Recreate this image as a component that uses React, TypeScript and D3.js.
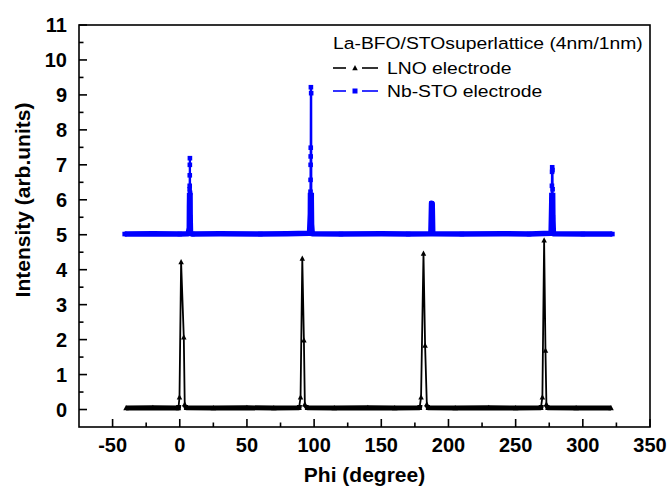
import React from "react";
import * as d3 from "d3";

// ---- data ----
const lnoSeries: [number, number][] = [
  [-40, 0.04], [-20, 0.05], [-1, 0.04], [-0.2, 0.35], [1.0, 4.22], [3.0, 2.07], [3.7, 0.15], [5, 0.05],
  [25, 0.04], [50, 0.05], [70, 0.04], [88.8, 0.05], [89.9, 0.35], [91.2, 4.32], [92.4, 1.98], [93.1, 0.15], [95, 0.05],
  [115, 0.04], [140, 0.05], [160, 0.04], [178.5, 0.05], [179.6, 0.35], [181.4, 4.46], [182.6, 1.83], [183.9, 0.15], [185, 0.05],
  [205, 0.04], [230, 0.05], [250, 0.04], [268.8, 0.05], [269.9, 0.35], [271.2, 4.84], [272.2, 1.69], [272.9, 0.15], [274, 0.05],
  [295, 0.04], [321, 0.04],
];

const nbstoSeries: [number, number][] = [
  [-41, 5.02], [-20, 5.03], [0, 5.02], [6.3, 5.03], [7.1, 5.2], [7.2, 5.8], [7.3, 6.07], [7.35, 6.3], [7.4, 6.4],
  [7.45, 6.7], [7.5, 7.0], [7.55, 7.19], [7.65, 6.2], [7.75, 5.5], [8.0, 5.05], [9.5, 5.02],
  [30, 5.03], [60, 5.02], [80, 5.03], [96.6, 5.04], [97.2, 5.6], [97.3, 6.23], [97.35, 6.57], [97.4, 7.0],
  [97.45, 7.24], [97.5, 7.49], [97.6, 9.22], [97.8, 9.05], [97.9, 6.0], [98.1, 5.3], [98.6, 5.03],
  [120, 5.02], [150, 5.03], [170, 5.02], [186.9, 5.03], [187.4, 5.9], [187.9, 5.88], [188.3, 5.03],
  [210, 5.02], [240, 5.03], [260, 5.02], [276.4, 5.04], [276.9, 6.0], [277.0, 6.4], [277.1, 6.8], [277.2, 6.93],
  [277.4, 6.85], [277.5, 6.3], [277.7, 5.5], [278.1, 5.03], [300, 5.02], [322, 5.02],
];

const xMajorTicks = [-50, 0, 50, 100, 150, 200, 250, 300, 350];
const xMinorTicks = [-25, 25, 75, 125, 175, 225, 275, 325];
const yMajorTicks = [0, 1, 2, 3, 4, 5, 6, 7, 8, 9, 10, 11];
const yMinorTicks = [0.5, 1.5, 2.5, 3.5, 4.5, 5.5, 6.5, 7.5, 8.5, 9.5, 10.5];

const legendTitle = "La-BFO/STOsuperlattice (4nm/1nm)";
const legendLabels = ["LNO electrode", "Nb-STO electrode"];
const xTitle = "Phi (degree)";
const yTitle = "Intensity (arb.units)";

const W = 670;
const H = 488;
const M = { left: 79, right: 650, top: 25, bottom: 427 };

export default function App() {
  const x = d3.scaleLinear().domain([-75, 350]).range([M.left, M.right]);
  const y = d3.scaleLinear().domain([-0.5, 11]).range([M.bottom, M.top]);
  const line = d3
    .line<[number, number]>()
    .x((d) => x(d[0]))
    .y((d) => y(d[1]));

  const font = "'Liberation Sans', Arial, Helvetica, sans-serif";
  const tri = (cx: number, cy: number, s: number) =>
    `M${cx},${cy - s * 0.6}L${cx + s * 0.55},${cy + s * 0.45}L${cx - s * 0.55},${cy + s * 0.45}Z`;

  const blue = "#0000ff";

  return (
    <svg
      width={W}
      height={H}
      style={{ position: "absolute", left: 0, top: 0, background: "#fff" }}
      fontFamily={font}
    >
      <defs>
        <clipPath id="plot">
          <rect x={M.left} y={M.top} width={M.right - M.left} height={M.bottom - M.top} />
        </clipPath>
        <clipPath id="lnoBase">
          <rect x={M.left} y={y(0.13)} width={M.right - M.left} height={y(-0.2) - y(0.13)} />
        </clipPath>
        <clipPath id="nbBase">
          <rect x={M.left} y={y(6.2)} width={M.right - M.left} height={y(4.8) - y(6.2)} />
        </clipPath>
      </defs>

      {/* data */}
      <g clipPath="url(#plot)">
        <g clipPath="url(#nbBase)">
          <path d={line(nbstoSeries) || ""} fill="none" stroke={blue} strokeWidth={5.5} strokeLinejoin="round" />
        </g>
        <path d={line(nbstoSeries) || ""} fill="none" stroke={blue} strokeWidth={2.2} />
        {nbstoSeries.map((d, i) => (
          <rect key={"b" + i} x={x(d[0]) - 2.3} y={y(d[1]) - 2.3} width={4.6} height={4.6} fill={blue} />
        ))}

        <g clipPath="url(#lnoBase)">
          <path d={line(lnoSeries) || ""} fill="none" stroke="#000" strokeWidth={5} strokeLinejoin="round" />
        </g>
        <path d={line(lnoSeries) || ""} fill="none" stroke="#000" strokeWidth={1.8} />
        {lnoSeries.map((d, i) => (
          <path key={"k" + i} d={tri(x(d[0]), y(d[1]), 5)} fill="#000" />
        ))}
      </g>

      {/* frame */}
      <rect
        x={M.left}
        y={M.top}
        width={M.right - M.left}
        height={M.bottom - M.top}
        fill="none"
        stroke="#000"
        strokeWidth={1.6}
      />

      {/* x ticks */}
      {xMajorTicks.map((t) => (
        <g key={"xt" + t}>
          <line x1={x(t)} x2={x(t)} y1={M.bottom} y2={M.bottom - 8} stroke="#000" strokeWidth={1.6} />
          <text x={x(t)} y={452} textAnchor="middle" fontSize={20} fontWeight="bold">
            {t}
          </text>
        </g>
      ))}
      {xMinorTicks.map((t) => (
        <line key={"xm" + t} x1={x(t)} x2={x(t)} y1={M.bottom} y2={M.bottom - 4.5} stroke="#000" strokeWidth={1.6} />
      ))}

      {/* y ticks */}
      {yMajorTicks.map((t) => (
        <g key={"yt" + t}>
          <line x1={M.left} x2={M.left + 8} y1={y(t)} y2={y(t)} stroke="#000" strokeWidth={1.6} />
          <text x={67} y={y(t)} dy="0.36em" textAnchor="end" fontSize={20} fontWeight="bold">
            {t}
          </text>
        </g>
      ))}
      {yMinorTicks.map((t) => (
        <line key={"ym" + t} x1={M.left} x2={M.left + 4.5} y1={y(t)} y2={y(t)} stroke="#000" strokeWidth={1.6} />
      ))}

      {/* axis titles */}
      <text x={(M.left + M.right) / 2} y={482} textAnchor="middle" fontSize={21} fontWeight="bold">
        {xTitle}
      </text>
      <text
        transform={`translate(30,200) rotate(-90)`}
        textAnchor="middle"
        fontSize={21}
        fontWeight="bold"
      >
        {yTitle}
      </text>

      {/* legend */}
      <text transform="translate(333,49) scale(1.15,1)" fontSize={16.8}>
        {legendTitle}
      </text>
      <g>
        <line x1={333} x2={346} y1={68} y2={68} stroke="#000" strokeWidth={1.6} />
        <line x1={362} x2={378} y1={68} y2={68} stroke="#000" strokeWidth={1.6} />
        <path d={tri(355, 68, 5)} fill="#000" />
        <text transform="translate(387,74) scale(1.15,1)" fontSize={16.8}>
          {legendLabels[0]}
        </text>
      </g>
      <g>
        <line x1={333} x2={346} y1={91} y2={91} stroke={blue} strokeWidth={1.6} />
        <line x1={362} x2={378} y1={91} y2={91} stroke={blue} strokeWidth={1.6} />
        <rect x={352.5} y={88.5} width={5} height={5} fill={blue} />
        <text transform="translate(387,97) scale(1.15,1)" fontSize={16.8}>
          {legendLabels[1]}
        </text>
      </g>
    </svg>
  );
}
